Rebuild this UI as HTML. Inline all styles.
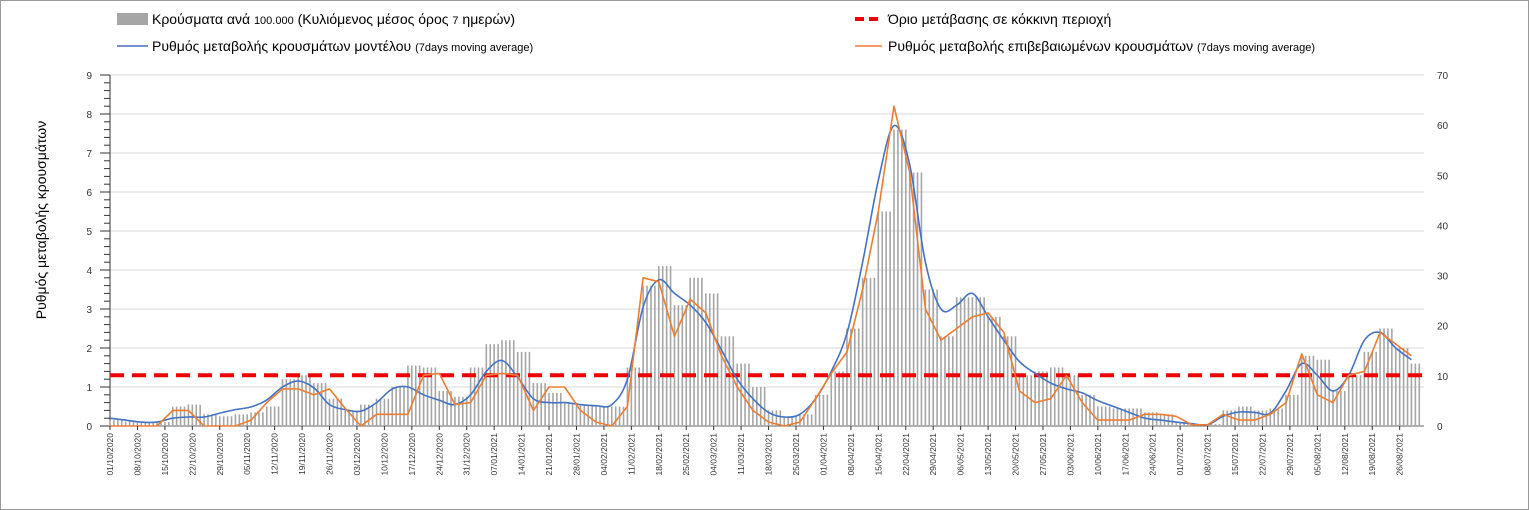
<!DOCTYPE html>
<html><head><meta charset="utf-8"><style>
body{margin:0;background:#fff;}
svg{display:block;font-family:"Liberation Sans",sans-serif;}
</style></head><body>
<svg width="1529" height="510" id="svg">
<rect x="0.5" y="0.5" width="1528" height="509" fill="#fff" stroke="#999"/>
<g>
 <rect x="117" y="13" width="31" height="12" fill="#a6a6a6"/>
 <text x="152" y="24" font-size="14">Κρούσματα ανά <tspan font-size="11">100.000</tspan> (Κυλιόμενος μέσος όρος <tspan font-size="11">7</tspan> ημερών)</text>
 <line x1="117" y1="46" x2="148" y2="46" stroke="#4472c4" stroke-width="1.5"/>
 <text x="152" y="51" font-size="14">Ρυθμός μεταβολής κρουσμάτων μοντέλου <tspan font-size="11">(7days moving average)</tspan></text>
 <line x1="855" y1="19" x2="882" y2="19" stroke="#e00" stroke-width="4" stroke-dasharray="9,5"/>
 <text x="888" y="24" font-size="14">Όριο μετάβασης σε κόκκινη περιοχή</text>
 <line x1="855" y1="46" x2="882" y2="46" stroke="#ed7d31" stroke-width="1.5"/>
 <text x="888" y="51" font-size="14">Ρυθμός μεταβολής επιβεβαιωμένων κρουσμάτων <tspan font-size="11">(7days moving average)</tspan></text>
</g>
<text transform="translate(46,220) rotate(-90)" text-anchor="middle" font-size="14">Ρυθμός μεταβολής κρουσμάτων</text>
<g id="plot"></g>
</svg>
<script>
const leftTicks=[0,1,2,3,4,5,6,7,8,9];
const rightTicks=[0,10,20,30,40,50,60,70];
const threshold=1.3;
const stepDays=4;
const bars=[0.15,0.12,0.1,0.1,0.5,0.55,0.3,0.25,0.3,0.35,0.5,1.2,1.3,1.1,0.7,0.4,0.55,0.7,1.0,1.55,1.5,0.9,0.75,1.5,2.1,2.2,1.9,1.1,0.85,0.6,0.55,0.5,0.5,1.5,3.6,4.1,3.1,3.8,3.4,2.3,1.6,1.0,0.4,0.25,0.3,0.8,1.4,2.5,3.8,5.5,7.6,6.5,3.5,2.3,3.3,3.3,2.8,2.3,1.3,1.4,1.5,1.3,0.8,0.5,0.45,0.45,0.35,0.3,0.1,0.05,0.05,0.4,0.5,0.4,0.45,0.8,1.8,1.7,0.9,1.3,1.9,2.5,2.0,1.6];
const model=[0.2,0.15,0.1,0.1,0.2,0.23,0.23,0.33,0.42,0.49,0.67,1.0,1.15,0.98,0.55,0.42,0.38,0.6,0.95,1.0,0.8,0.66,0.55,0.8,1.4,1.68,1.25,0.7,0.6,0.6,0.55,0.52,0.55,1.2,3.05,3.75,3.4,3.1,2.65,1.95,1.2,0.7,0.35,0.23,0.3,0.7,1.4,2.38,4.2,6.3,7.7,6.7,4.2,3.0,3.1,3.4,2.8,2.2,1.65,1.35,1.1,0.95,0.85,0.65,0.5,0.35,0.2,0.15,0.1,0.06,0.03,0.25,0.36,0.35,0.33,0.9,1.6,1.3,0.9,1.3,2.2,2.4,2.0,1.7];
const confirmed=[0,0,0,0,0.4,0.4,0,0,0,0.15,0.6,0.95,0.95,0.8,0.95,0.45,0,0.3,0.3,0.3,1.3,1.35,0.55,0.6,1.3,1.35,1.3,0.4,1.0,1.0,0.4,0.1,0,0.5,3.8,3.7,2.3,3.25,2.9,1.8,1.0,0.4,0.1,0,0.1,0.7,1.35,1.9,3.5,5.5,8.2,6.5,3.0,2.2,2.5,2.8,2.9,2.4,0.9,0.6,0.7,1.3,0.6,0.15,0.15,0.15,0.3,0.3,0.25,0.03,0.03,0.3,0.15,0.15,0.3,0.6,1.85,0.8,0.6,1.3,1.4,2.4,2.1,1.8];
const NS='http://www.w3.org/2000/svg';
const X0=110,PX_DAY=3.92,Y0=426,PX_UNIT=39,XR=1424;
const xs=d=>X0+d*PX_DAY;
const ys=v=>Y0-v*PX_UNIT;
const yr=v=>Y0-v*(351/70);
const plot=document.getElementById('plot');
function mk(t,a){const e=document.createElementNS(NS,t);for(const k in a)e.setAttribute(k,a[k]);plot.appendChild(e);return e;}
leftTicks.forEach(t=>{
 const g=mk('line',{x1:X0,x2:XR,y1:ys(t),y2:ys(t),stroke:t===0?'#666':'#d9d9d9','stroke-width':1});
 
 
 const l=mk('text',{x:92,y:ys(t)+4,'font-size':10,'text-anchor':'end',fill:'#333'});
 l.textContent=t;
 
 
});
for(let i=0;i<=45;i++){
 const y=Y0-i*PX_UNIT/5;
 const tk=mk('line',{x1:i%5===0?100:104,x2:X0,y1:y,y2:y,stroke:'#333','stroke-width':1});
 
 
}
const ax=mk('line',{x1:X0,x2:X0,y1:ys(9),y2:Y0,stroke:'#333','stroke-width':1});


rightTicks.forEach(t=>{
 const l=mk('text',{x:1437,y:yr(t)+4,'font-size':10,fill:'#333'});
 l.textContent=t;
 
 
});
bars.forEach((v,i)=>{
 for(let k=0;k<stepDays;k++){
  const d=i*stepDays+k;const x=xs(d);if(x>XR-2)continue;
  const b=mk('rect',{x:x-0.8,y:ys(v),width:1.6,height:Y0-ys(v),fill:'#a6a6a6'});
  
  
 }
});
const th=mk('line',{x1:X0,x2:XR,y1:ys(threshold),y2:ys(threshold),stroke:'#e00','stroke-width':4,'stroke-dasharray':'14,8'});


function smoothPath(pts){
 let d='M'+pts[0][0].toFixed(1)+','+pts[0][1].toFixed(1);
 for(let i=0;i<pts.length-1;i++){
  const p0=pts[Math.max(0,i-1)],p1=pts[i],p2=pts[i+1],p3=pts[Math.min(pts.length-1,i+2)];
  const c1=[p1[0]+(p2[0]-p0[0])/6,p1[1]+(p2[1]-p0[1])/6];
  const c2=[p2[0]-(p3[0]-p1[0])/6,p2[1]-(p3[1]-p1[1])/6];
  d+=' C'+c1.map(n=>n.toFixed(1)).join(',')+' '+c2.map(n=>n.toFixed(1)).join(',')+' '+p2[0].toFixed(1)+','+p2[1].toFixed(1);
 }
 return d;
}
function line(arr,col,name,smooth){
 const pts=arr.map((v,i)=>[xs(Math.min(i*stepDays,(XR-X0)/PX_DAY)),ys(v)]);
 const e=mk('path',{d:smooth?smoothPath(pts):'M'+pts.map(p=>p[0].toFixed(1)+','+p[1].toFixed(1)).join(' L'),fill:'none',stroke:col,'stroke-width':1.6,'stroke-linejoin':'round'});
 
 
}
line(model,'#4472c4','model-rate-line',true);
line(confirmed,'#ed7d31','confirmed-rate-line',false);
const start=new Date(2020,9,1);
for(let w=0;w<=47;w++){
 const d=new Date(start.getTime()+w*7*86400000+3600000*12);
 const s=String(d.getDate()).padStart(2,'0')+'/'+String(d.getMonth()+1).padStart(2,'0')+'/'+d.getFullYear();
 const x=xs(w*7);
 const tk=mk('line',{x1:x,x2:x,y1:Y0,y2:Y0+4,stroke:'#333'});
 
 
 const t=mk('text',{transform:`translate(${x+3},${Y0+7}) rotate(-90)`,'font-size':8.5,'text-anchor':'end',fill:'#333'});
 t.textContent=s;
 
 
}
</script>
</body></html>
